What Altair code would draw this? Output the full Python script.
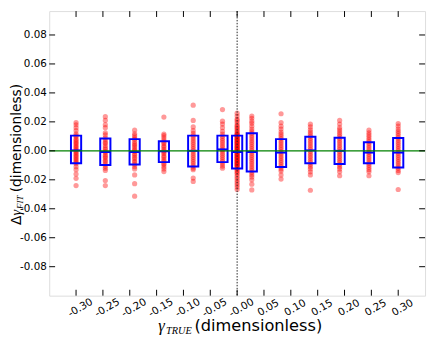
import altair as alt
import pandas as pd

# ---- data ----
group_x = [-0.3, -0.2455, -0.1909, -0.1364, -0.0818, -0.0273, 0.0,
           0.0273, 0.0818, 0.1364, 0.1909, 0.2455, 0.3]

pts_g01 = [0.0195, 0.018, 0.016, 0.014, 0.0118, 0.0105, 0.0095, 0.008, 0.007, 0.006,
           0.005, 0.004, 0.003, 0.002, 0.001, 0.0, -0.001, -0.002, -0.003, -0.004,
           -0.005, -0.006, -0.007, -0.008, -0.009, -0.011, -0.013, -0.016, -0.019, -0.024]
pts_g02 = [0.0236, 0.021, 0.018, 0.016, 0.0125, 0.011, 0.009, 0.0075, 0.006, 0.005,
           0.0035, 0.002, 0.001, -0.0005, -0.0015, -0.003, -0.004, -0.005, -0.0065,
           -0.0075, -0.009, -0.0105, -0.012, -0.0135, -0.0205, -0.024]
pts_g03 = [0.0143, 0.0118, 0.0105, 0.009, 0.008, 0.0065, 0.005, 0.004, 0.003, 0.0015,
           0.0005, -0.0005, -0.002, -0.003, -0.0045, -0.0055, -0.007, -0.008, -0.0095,
           -0.011, -0.0125, -0.0166, -0.0227, -0.0313]
pts_g04 = [0.0233, 0.0116, 0.0105, 0.009, 0.0075, 0.006, 0.005, 0.0035, 0.0025, 0.001,
           0.0, -0.001, -0.002, -0.0035, -0.0045, -0.006, -0.007, -0.0085, -0.0095,
           -0.011, -0.0125, -0.0143]
pts_g05 = [0.0315, 0.021, 0.0165, 0.0139, 0.012, 0.0105, 0.009, 0.0075, 0.006, 0.0045,
           0.003, 0.0015, 0.0, -0.0015, -0.003, -0.0045, -0.006, -0.0075, -0.009,
           -0.0105, -0.012, -0.013, -0.0188, -0.0211]
pts_g06 = [0.0285, 0.0205, 0.0185, 0.016, 0.0135, 0.0115, 0.01, 0.0085, 0.007, 0.0055,
           0.004, 0.0025, 0.001, 0.0, -0.0015, -0.003, -0.0045, -0.006, -0.0075, -0.009,
           -0.0105, -0.012]
pts_g07 = [0.026, 0.024, 0.022, 0.021, 0.0195, 0.018, 0.017, 0.016, 0.015, 0.014,
           0.013, 0.012, 0.0115, 0.011, 0.0105, 0.01, 0.0095, 0.009, 0.0085, 0.008,
           0.0075, 0.007, 0.0065, 0.006, 0.0055, 0.005, 0.0045, 0.004, 0.0035, 0.003,
           0.0025, 0.002, 0.0015, 0.001, 0.0005, 0.0, -0.0005, -0.001, -0.0015, -0.002,
           -0.0025, -0.003, -0.0035, -0.004, -0.0045, -0.005, -0.0055, -0.006, -0.0065,
           -0.007, -0.0075, -0.008, -0.0085, -0.009, -0.0095, -0.01, -0.0105, -0.011,
           -0.012, -0.013, -0.014, -0.015, -0.016, -0.0175, -0.019, -0.0205, -0.022,
           -0.0235, -0.025, -0.0267]
pts_g08 = [0.024, 0.0225, 0.0205, 0.019, 0.017, 0.015, 0.0135, 0.012, 0.0105, 0.009,
           0.0075, 0.006, 0.0045, 0.003, 0.0015, 0.0, -0.0015, -0.003, -0.0045, -0.006,
           -0.0075, -0.009, -0.0105, -0.012, -0.0135, -0.015, -0.0165, -0.018, -0.02,
           -0.023, -0.027]
pts_g09 = [0.0256, 0.0195, 0.017, 0.015, 0.013, 0.0115, 0.01, 0.0085, 0.007, 0.0055,
           0.004, 0.0025, 0.001, -0.0005, -0.002, -0.0035, -0.005, -0.0065, -0.008,
           -0.0095, -0.011, -0.0125, -0.014, -0.0166, -0.0195]
pts_g10 = [0.0184, 0.0165, 0.0145, 0.013, 0.0115, 0.01, 0.0085, 0.007, 0.0055, 0.004,
           0.0025, 0.001, -0.0005, -0.002, -0.0035, -0.005, -0.0065, -0.008, -0.0095,
           -0.011, -0.0125, -0.0145, -0.0166, -0.0272]
pts_g11 = [0.021, 0.0185, 0.016, 0.0145, 0.013, 0.0115, 0.01, 0.0085, 0.007, 0.0055,
           0.004, 0.0025, 0.001, -0.0005, -0.002, -0.0035, -0.005, -0.0065, -0.008,
           -0.0095, -0.011, -0.0125, -0.0145, -0.0172]
pts_g12 = [0.0143, 0.0125, 0.011, 0.0095, 0.008, 0.0065, 0.005, 0.0035, 0.002, 0.0005,
           -0.001, -0.0025, -0.004, -0.0055, -0.007, -0.0085, -0.01, -0.0115, -0.013,
           -0.0145, -0.0172]
pts_g13 = [0.0188, 0.017, 0.015, 0.0135, 0.012, 0.0105, 0.009, 0.0075, 0.006, 0.0045,
           0.003, 0.0015, 0.0, -0.0015, -0.003, -0.0045, -0.006, -0.0075, -0.009,
           -0.0105, -0.012, -0.0135, -0.015, -0.0267]

group_points = [pts_g01, pts_g02, pts_g03, pts_g04, pts_g05, pts_g06, pts_g07,
                pts_g08, pts_g09, pts_g10, pts_g11, pts_g12, pts_g13]

box_q1 = [-0.0085, -0.0098, -0.0095, -0.0078, -0.0108, -0.0078, -0.0122,
          -0.0142, -0.0112, -0.0085, -0.0091, -0.0085, -0.0115]
box_med = [0.0003, -0.0008, -0.0008, -0.0003, 0.0, 0.001, -0.0008,
           -0.0008, -0.0012, 0.0003, 0.0, -0.0012, -0.0012]
box_q3 = [0.0105, 0.0085, 0.0081, 0.0066, 0.0105, 0.0105, 0.0105,
          0.0122, 0.0081, 0.0098, 0.0091, 0.006, 0.0088]

x_ticks = [-0.30, -0.25, -0.20, -0.15, -0.10, -0.05, 0.0, 0.05, 0.10, 0.15, 0.20, 0.25, 0.30]
y_ticks = [-0.08, -0.06, -0.04, -0.02, 0.0, 0.02, 0.04, 0.06, 0.08]

# ---- tables ----
rows = []
for gx, vals in zip(group_x, group_points):
    for v in vals:
        rows.append({"x": gx, "y": v})
pts_df = pd.DataFrame(rows)
box_df = pd.DataFrame({"x": group_x, "q1": box_q1, "med": box_med, "q3": box_q3})
xt_df = pd.DataFrame({"t": x_ticks})
yt_df = pd.DataFrame({"t": y_ticks})

W, H = 383, 290
BOX_HALF = 0.0095
FONT = "DejaVu Sans"
MATH = "Liberation Serif"

xs = alt.Scale(domain=[-0.35, 0.35], nice=False, zero=False)
ys = alt.Scale(domain=[-0.1, 0.0965], nice=False, zero=False)

x_axis = alt.Axis(values=x_ticks, ticks=False, tickSize=0, domain=False, grid=False,
                  labelExpr="datum.value == 0 ? '-0.00' : replace(format(datum.value, '.2f'), '\u2212', '-')",
                  labelAngle=330, labelAlign="center", labelBaseline="middle",
                  labelPadding=12, labelOffset=4, labelFontSize=10.5, labelFont=FONT,
                  labelColor="black", labelFlush=False, labelOverlap=False, title=None)
y_axis = alt.Axis(values=y_ticks, ticks=False, tickSize=0, domain=False, grid=False,
                  labelExpr="replace(format(datum.value, '.2f'), '\u2212', '-')",
                  labelPadding=3, labelFontSize=10.5, labelFont=FONT, labelColor="black",
                  labelFlush=False, labelOverlap=False, title=None)


def X(field):
    return alt.X(field, scale=xs, axis=x_axis, title=None)


def Y(field):
    return alt.Y(field, scale=ys, axis=y_axis, title=None)


points = alt.Chart(pts_df).mark_circle(size=28, color="#ff0000", opacity=0.4).encode(
    x=X("x:Q"), y=Y("y:Q"))

box_base = alt.Chart(box_df).transform_calculate(
    xl=f"datum.x - {BOX_HALF}", xr=f"datum.x + {BOX_HALF}")
boxes = box_base.mark_rect(fillOpacity=0, stroke="#0000ff", strokeWidth=2).encode(
    x=X("xl:Q"), x2="xr:Q", y=Y("q1:Q"), y2="q3:Q")
medians = box_base.mark_rule(color="#0000ff", strokeWidth=2).encode(
    x=X("xl:Q"), x2="xr:Q", y=Y("med:Q"))

zero_line = alt.Chart(pd.DataFrame({"y": [0.0]})).mark_rule(
    color="#008000", strokeWidth=1.3).encode(y=Y("y:Q"))
vline = alt.Chart(pd.DataFrame({"x": [0.0]})).mark_rule(
    color="#222222", strokeWidth=1, strokeDash=[1.5, 1.5]).encode(x=X("x:Q"))

TL = 6
tick_bot = alt.Chart(xt_df).mark_rule(color="black", strokeWidth=1).encode(
    x=X("t:Q"), y=alt.value(H), y2=alt.value(H - TL))
tick_top = alt.Chart(xt_df).mark_rule(color="black", strokeWidth=1).encode(
    x=X("t:Q"), y=alt.value(0), y2=alt.value(TL))
tick_left = alt.Chart(yt_df).mark_rule(color="black", strokeWidth=1).encode(
    y=Y("t:Q"), x=alt.value(0), x2=alt.value(TL))
tick_right = alt.Chart(yt_df).mark_rule(color="black", strokeWidth=1).encode(
    y=Y("t:Q"), x=alt.value(W), x2=alt.value(W - TL))


def label(text, x, y, size=14.0, font=FONT, style="normal", angle=0):
    return alt.Chart(pd.DataFrame({"t": [text]})).mark_text(
        align="left", baseline="alphabetic", fontSize=size, font=font,
        fontStyle=style, angle=angle, color="black").encode(
        text="t:N", x=alt.value(x), y=alt.value(y))


# x title: gamma_TRUE (dimensionless)
xt1 = label("\u03b3", 111, 326, size=17, font=MATH, style="italic")
xt2 = label("TRUE", 119, 329, size=10.5, font=MATH, style="italic")
xt3 = label("(dimensionless)", 148, 326, size=16.5)
# y title: Delta gamma_FIT (dimensionless), rotated
yt1 = label("\u0394", -28.5, 218, angle=270)
yt2 = label("\u03b3", -28.5, 208.4, size=14.5, font=MATH, style="italic", angle=270)
yt3 = label("FIT", -26.5, 201.6, size=9, font=MATH, style="italic", angle=270)
yt4 = label("(dimensionless)", -28.5, 184.6, angle=270)

chart = alt.layer(
    points, boxes, medians, zero_line, vline,
    tick_bot, tick_top, tick_left, tick_right,
    xt1, xt2, xt3, yt1, yt2, yt3, yt4,
).properties(
    width=W, height=H, autosize="none",
    padding={"left": 42, "top": 0, "right": 3, "bottom": 40},
).configure_view(stroke="black", strokeWidth=1.2).configure(background="white")

chart.save("out.html", embed_options={"renderer": "svg", "actions": False})
